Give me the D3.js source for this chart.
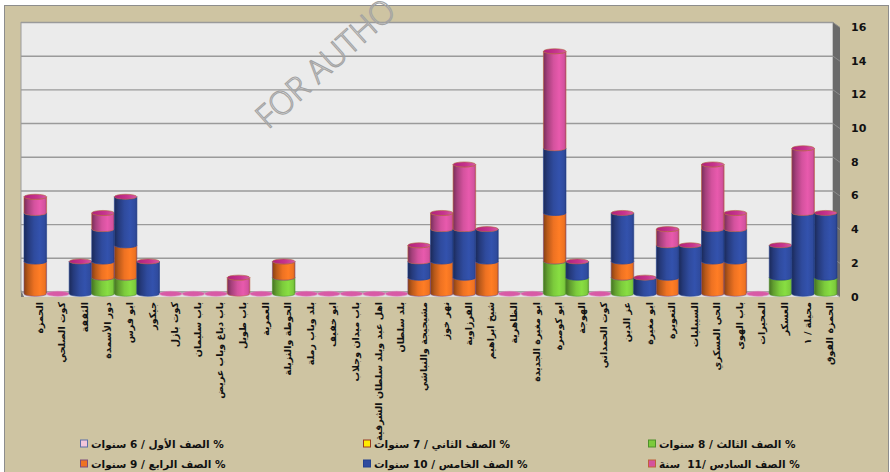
<!DOCTYPE html>
<html>
<head>
<meta charset="utf-8">
<script src="https://cdn.jsdelivr.net/npm/d3@7"></script>
<style>
  html, body { margin: 0; padding: 0; background: #fff; }
  svg { display: block; }
</style>
</head>
<body>
<svg id="chart" width="890" height="472"></svg>
<script>
// Neighbourhoods (x categories)
const categories = [
  "الحمزة", "كوت الصلحي", "الثقفة", "دور الأسمدة", "ابو فرس", "جيكور",
  "كوت بازل", "باب سليمان", "باب دباغ وباب عريض", "باب طويل", "العمرية", "الحوطة والنزيلة",
  "بلد وباب رملة", "ابو خفيف", "باب ميدان وجلاب", "اهل عبد وبلد سلطان الشرقية", "بلد سلطان", "مشيجيجة والنباشي",
  "نهر خوز", "القرزاوية", "شيخ ابراهيم", "الظاهرية", "ابو مغيرة الجديدة", "ابو كوصرة",
  "الهوجة", "كوت الحمداني", "عز الدين", "ابو مغيرة", "التعويرة", "السيبليات",
  "الحي العسكري", "باب الهوى", "المحيرات", "العسكر", "محيلة / ١", "الحمزة الفوق"
];

// Series labels (legend order)
const seriesNames = [
  "% الصف الأول / 6 سنوات",
  "% الصف الثاني / 7 سنوات",
  "% الصف الثالث / 8 سنوات",
  "% الصف الرابع / 9 سنوات",
  "% الصف الخامس / 10 سنوات",
  "% الصف السادس /11  سنة"
];

// Percentages per grade, one value per neighbourhood
const grade1 = [0,0,0,0,0,0, 0,0,0,0,0,0, 0,0,0,0,0,0, 0,0,0,0,0,0, 0,0,0,0,0,0, 0,0,0,0,0,0];
const grade2 = [0,0,0,0,0,0, 0,0,0,0,0,0, 0,0,0,0,0,0, 0,0,0,0,0,0, 0,0,0,0,0,0, 0,0,0,0,0,0];
const grade3 = [0,0,0,0.98,0.98,0, 0,0,0,0,0,0.98, 0,0,0,0,0,0, 0,0,0,0,0,1.96, 0.98,0,0.98,0,0,0, 0,0,0,0.98,0,0.98];
const grade4 = [1.96,0,0,0.98,1.96,0, 0,0,0,0,0,0.98, 0,0,0,0,0,0.98, 1.96,0.98,1.96,0,0,2.94, 0,0,0.98,0,0.98,0, 1.96,1.96,0,0,0,0];
const grade5 = [2.94,0,1.96,1.96,2.94,1.96, 0,0,0,0,0,0, 0,0,0,0,0,0.98, 1.96,2.94,1.96,0,0,3.92, 0.98,0,2.94,0.98,1.96,2.94, 1.96,1.96,0,1.96,4.9,3.92];
const grade6 = [0.98,0,0,0.98,0,0, 0,0,0,0.98,0,0, 0,0,0,0,0,0.98, 0.98,3.92,0,0,0,5.88, 0,0,0,0,0.98,0, 3.92,0.98,0,0,3.92,0];

// Y axis tick labels
const yTicks = [0, 2, 4, 6, 8, 10, 12, 14, 16];

const seriesColors = ["#F2C6DA", "#FFEB00", "#7CCB3C", "#EE7222", "#2F4B9E", "#D4529E"];
const seriesEdge   = ["#5A6FA8", "#9A3A20", "#4E8F2A", "#7E4C7A", "#22408E", "#C0603A"];
const legendTextColor = "#111";

const keys = ["g1", "g2", "g3", "g4", "g5", "g6"];
const grades = [grade1, grade2, grade3, grade4, grade5, grade6];
const rows = categories.map((c, i) => {
  const r = { cat: c };
  keys.forEach((k, j) => r[k] = grades[j][i]);
  return r;
});

const svg = d3.select("#chart");

// chart area frame
svg.append("rect").attr("x", 4.5).attr("y", 5.5).attr("width", 884).attr("height", 470)
  .attr("fill", "#CEC4A2").attr("stroke", "#8d8d8d").attr("stroke-width", 1);

// back wall geometry
const wall = { x0: 21, x1: 833, y0: 22.5, y1: 292 };
const depth = { dx: 7, dy: 5 };
const yWall = d3.scaleLinear().domain([0, 16]).range([wall.y1, wall.y0]);
// front plane where the cylinders stand
const xFront = d3.scaleBand().domain(categories).range([24, 837]).paddingInner(0.0).paddingOuter(0.0);
const yFront = d3.scaleLinear().domain([0, 16]).range([293.8, 29.8]);

const defs = svg.append("defs");
function cylGrad(id, base) {
  const c = d3.color(base);
  const g = defs.append("linearGradient").attr("id", id).attr("x1", "0%").attr("x2", "100%").attr("y1", "0%").attr("y2", "0%");
  g.append("stop").attr("offset", "0%").attr("stop-color", c.darker(1.6));
  g.append("stop").attr("offset", "18%").attr("stop-color", c.darker(0.7));
  g.append("stop").attr("offset", "45%").attr("stop-color", c);
  g.append("stop").attr("offset", "70%").attr("stop-color", c.brighter(0.25));
  g.append("stop").attr("offset", "92%").attr("stop-color", c);
  g.append("stop").attr("offset", "100%").attr("stop-color", c.darker(0.6));
}
seriesColors.forEach((c, i) => cylGrad("cyl" + i, c));
const capG = defs.append("linearGradient").attr("id", "cap").attr("x1", "0%").attr("x2", "100%");
capG.append("stop").attr("offset", "0%").attr("stop-color", "#B0207A");
capG.append("stop").attr("offset", "60%").attr("stop-color", "#C8358F");
capG.append("stop").attr("offset", "100%").attr("stop-color", "#D65AA4");

// wall
svg.append("rect").attr("x", wall.x0).attr("y", wall.y0).attr("width", wall.x1 - wall.x0).attr("height", wall.y1 - wall.y0)
  .attr("fill", "#EBEBEB").attr("stroke", "#9b9b9b").attr("stroke-width", 1);

// right side panel of the wall
svg.append("path")
  .attr("d", `M${wall.x1},${wall.y0} L${wall.x1 + depth.dx},${wall.y0 + depth.dy} L${wall.x1 + depth.dx},${wall.y1 + depth.dy} L${wall.x1},${wall.y1} Z`)
  .attr("fill", "#6a6a6a");

// floor
svg.append("path")
  .attr("d", `M${wall.x0},${wall.y1} L${wall.x1},${wall.y1} L${wall.x1 + depth.dx},${wall.y1 + depth.dy} L${wall.x0 + 3},${wall.y1 + depth.dy} Z`)
  .attr("fill", "#dedede");
svg.append("path")
  .attr("d", `M${wall.x0},${wall.y1 - 2} L${wall.x0 + 3},${wall.y1 + depth.dy} L${wall.x0},${wall.y1 + depth.dy} Z`)
  .attr("fill", "#777");

// gridlines on the wall and their continuation on the side panel
const grid = svg.append("g");
yTicks.forEach(t => {
  const y = yWall(t);
  grid.append("line").attr("x1", wall.x0).attr("x2", wall.x1).attr("y1", y).attr("y2", y)
    .attr("stroke", "#9a9a9a").attr("stroke-width", 1.4);
  grid.append("line").attr("x1", wall.x1).attr("x2", wall.x1 + depth.dx).attr("y1", y).attr("y2", y + depth.dy)
    .attr("stroke", "#8c8c8c").attr("stroke-width", 1);
});

// y axis labels on the right
const yAxis = d3.axisRight(yWall).tickValues(yTicks).tickSize(0).tickPadding(0).tickFormat(d3.format("d"));
const ya = svg.append("g").attr("transform", `translate(851,4.5)`).call(yAxis);
ya.select(".domain").remove();
ya.selectAll("text").attr("font-family", "'DejaVu Sans', sans-serif").attr("font-weight", "bold")
  .attr("font-size", 11).attr("fill", "#111");

// watermark
svg.append("text").attr("transform", "translate(268,130) rotate(-42)")
  .attr("font-family", "'Open Sans', 'DejaVu Sans', sans-serif").attr("font-weight", 300)
  .attr("font-size", 32).attr("fill", "none").attr("stroke", "#a3a3a3").attr("stroke-width", 1.1)
  .text("FOR AUTHO");

// stacked cylinders
const stack = d3.stack().keys(keys)(rows);
const ry = 2.5;
const bw = xFront.bandwidth();
const rx = bw / 2;
function segPath(x0, yT, yB) {
  return `M${x0},${yT} L${x0},${yB} A${rx},${ry} 0 0 0 ${x0 + bw},${yB} L${x0 + bw},${yT} A${rx},${ry} 0 0 1 ${x0},${yT} Z`;
}
const bars = svg.append("g");
categories.forEach((cat, i) => {
  const x0 = xFront(cat);
  const g = bars.append("g");
  stack.forEach((layer, j) => {
    const [b, t] = layer[i];
    if (t - b <= 0) return;
    g.append("path").attr("d", segPath(x0, yFront(t), yFront(b)))
      .attr("fill", `url(#cyl${j})`)
      .attr("stroke", seriesEdge[j]).attr("stroke-width", 0.6);
  });
  const total = stack[stack.length - 1][i][1];
  g.append("ellipse").attr("cx", x0 + rx).attr("cy", yFront(total)).attr("rx", rx).attr("ry", ry)
    .attr("fill", total > 0 ? "url(#cap)" : "#D85AA6")
    .attr("stroke", total > 0 ? "#B0603A" : "#E08CC0").attr("stroke-width", 0.6);
});

// category labels, rotated, reading downward
const xl = svg.append("g");
categories.forEach(cat => {
  xl.append("text")
    .attr("transform", `translate(${xFront(cat) + bw / 2 + 4},302) rotate(-90)`)
    .attr("text-anchor", "end").attr("dominant-baseline", "central")
    .attr("font-family", "'DejaVu Sans', sans-serif").attr("font-weight", "bold")
    .attr("font-size", 9.5).attr("fill", "#111")
    .text(cat);
});

// legend: 3 columns x 2 rows
const legendCols = [80, 363, 648];
const legendRows = [443.5, 463.5];
const legendPos = [[0, 0], [1, 0], [2, 0], [0, 1], [1, 1], [2, 1]];
const lg = svg.append("g");
seriesNames.forEach((name, i) => {
  const [c, r] = legendPos[i];
  const x = legendCols[c], y = legendRows[r];
  lg.append("rect").attr("x", x + 0.5).attr("y", y - 3.5).attr("width", 7).attr("height", 7)
    .attr("fill", seriesColors[i]).attr("stroke", seriesEdge[i]).attr("stroke-width", 1);
  lg.append("text").attr("x", x + 11).attr("y", y)
    .attr("direction", "rtl").attr("text-anchor", "end").attr("dominant-baseline", "central")
    .style("white-space", "pre")
    .attr("font-family", "'DejaVu Sans', sans-serif").attr("font-weight", "bold")
    .attr("font-size", 10.5).attr("fill", legendTextColor)
    .text(name);
});
</script>
</body>
</html>
